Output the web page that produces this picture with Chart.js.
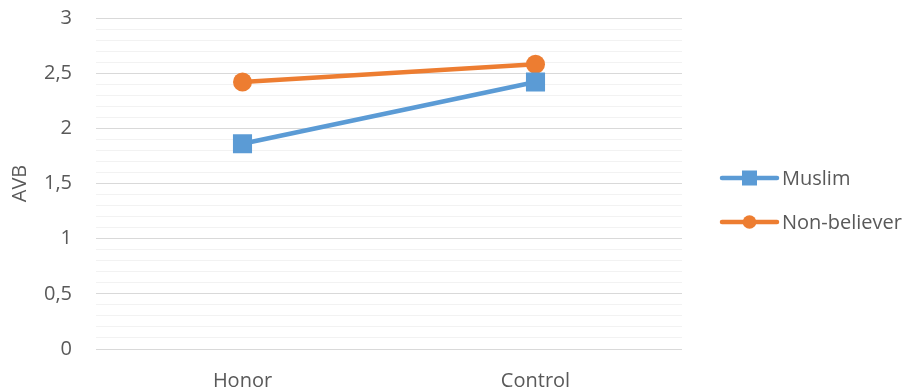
<!DOCTYPE html>
<html>
<head>
<meta charset="utf-8">
<script src="https://cdn.jsdelivr.net/npm/chart.js@4.4.1/dist/chart.umd.min.js"></script>
<style>
  html, body { margin: 0; padding: 0; background: #ffffff; }
  #wrap { width: 909px; height: 391px; position: relative; }
</style>
</head>
<body>
<div id="wrap"><canvas id="chart" width="909" height="391"></canvas></div>
<script>
// Categories and series
const categories = ['Honor', 'Control'];
const muslim = [1.86, 2.42];
const nonBeliever = [2.42, 2.58];
const seriesNames = ['Muslim', 'Non-believer'];
// Labelled (major) ticks on the value axis
const tickLabels = ['0', '0,5', '1', '1,5', '2', '2,5', '3'];

const BLUE = '#5B9BD5';
const ORANGE = '#ED7D31';
const TEXT = '#595959';
const FONT = "'Open Sans', 'Liberation Sans', sans-serif";
const FONT_SIZE = 20;

// Legend drawn to the right of the plot: a line sample with its marker, then the label
const sideLegend = {
  id: 'sideLegend',
  afterDraw(chart) {
    const ctx = chart.ctx;
    const x0 = 722, x1 = 777, textX = 782;
    const rows = [178, 222];
    chart.data.datasets.forEach((ds, i) => {
      const y = rows[i];
      ctx.save();
      ctx.strokeStyle = ds.borderColor;
      ctx.lineWidth = 4.5;
      ctx.lineCap = 'round';
      ctx.beginPath();
      ctx.moveTo(x0, y);
      ctx.lineTo(x1, y);
      ctx.stroke();
      ctx.fillStyle = ds.borderColor;
      const cx = (x0 + x1) / 2;
      if (ds.pointStyle === 'rect') {
        ctx.fillRect(cx - 7.5, y - 7.5, 15, 15);
      } else {
        ctx.beginPath();
        ctx.arc(cx, y, 6.8, 0, Math.PI * 2);
        ctx.fill();
      }
      ctx.fillStyle = TEXT;
      ctx.font = FONT_SIZE + 'px ' + FONT;
      ctx.textAlign = 'left';
      ctx.textBaseline = 'middle';
      ctx.fillText(ds.label, textX, y + 1);
      ctx.restore();
    });
  }
};

new Chart(document.getElementById('chart'), {
  type: 'line',
  data: {
    labels: categories,
    datasets: [
      {
        label: seriesNames[0],
        data: muslim,
        borderColor: BLUE,
        backgroundColor: BLUE,
        borderWidth: 4.5,
        pointStyle: 'rect',
        pointRadius: 13.5,
        pointBorderWidth: 0,
        pointHoverRadius: 13.5,
        tension: 0
      },
      {
        label: seriesNames[1],
        data: nonBeliever,
        borderColor: ORANGE,
        backgroundColor: ORANGE,
        borderWidth: 4.5,
        pointStyle: 'circle',
        pointRadius: 9.5,
        pointBorderWidth: 0,
        pointHoverRadius: 9.5,
        tension: 0
      }
    ]
  },
  options: {
    responsive: false,
    animation: false,
    layout: { padding: { top: 18, right: 227, left: 0, bottom: 0 } },
    plugins: {
      legend: { display: false },
      tooltip: { enabled: false }
    },
    scales: {
      x: {
        offset: true,
        grid: { display: false, drawTicks: false },
        border: { display: false },
        ticks: {
          color: TEXT,
          font: { family: FONT, size: FONT_SIZE },
          padding: 20
        },
        afterFit(scale) {
          scale.height = 42;
          scale.paddingLeft = 0;
          scale.paddingRight = 0;
        }
      },
      y: {
        min: 0,
        max: 3,
        ticks: {
          stepSize: 0.1,
          autoSkip: false,
          color: TEXT,
          font: { family: FONT, size: FONT_SIZE },
          padding: 24,
          callback(value) {
            const k = Math.round(value * 10);
            return k % 5 === 0 ? tickLabels[k / 5] : '';
          }
        },
        grid: {
          drawTicks: false,
          lineWidth: 1,
          color(ctx) {
            const k = Math.round(ctx.tick.value * 10);
            return k % 5 === 0 ? '#D9D9D9' : '#F2F2F2';
          }
        },
        border: { display: false },
        title: {
          display: true,
          text: 'AVB',
          color: TEXT,
          font: { family: FONT, size: FONT_SIZE },
          padding: { top: 8, bottom: 0 }
        },
        afterFit(scale) {
          scale.width = 96;
          scale.paddingTop = 0;
          scale.paddingBottom = 0;
        }
      }
    }
  },
  plugins: [sideLegend]
});
</script>
</body>
</html>
